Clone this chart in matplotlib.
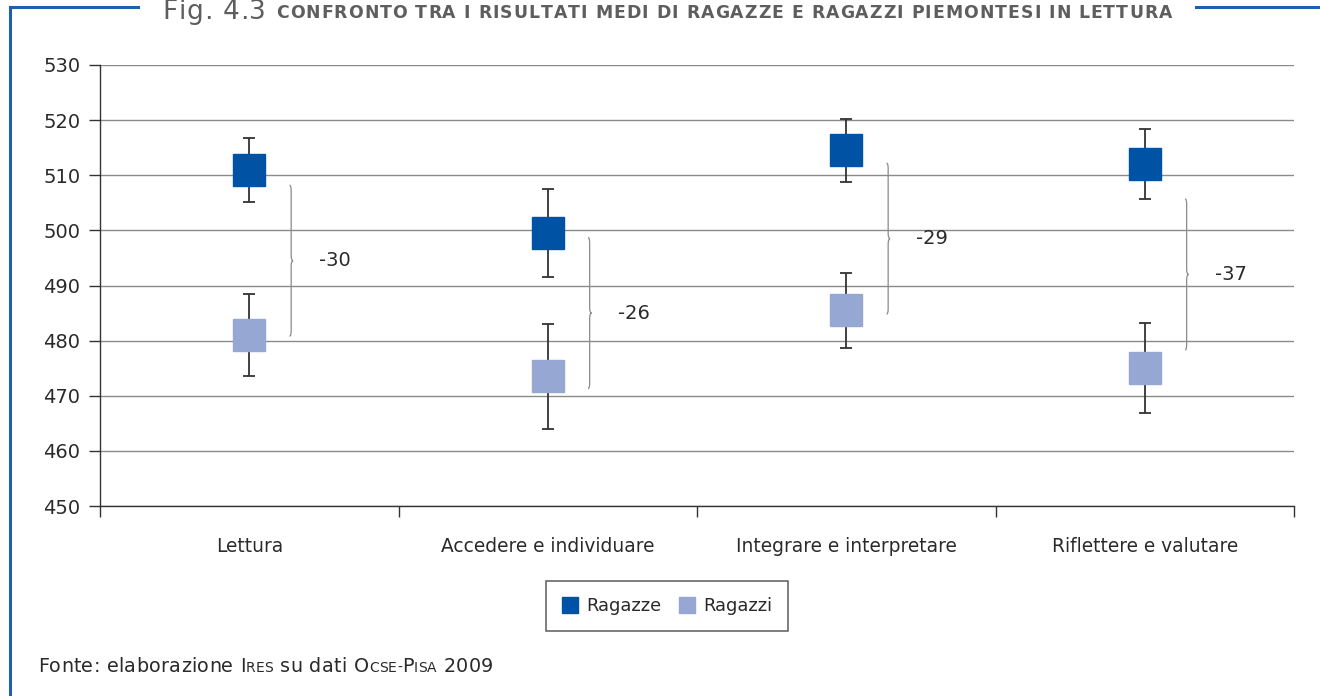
import matplotlib
matplotlib.use("Agg")
import matplotlib.pyplot as plt
from matplotlib.path import Path
from matplotlib.patches import PathPatch
from matplotlib.lines import Line2D
from matplotlib.transforms import IdentityTransform

# --- data -------------------------------------------------------------
categories = ["Lettura", "Accedere e individuare",
              "Integrare e interpretare", "Riflettere e valutare"]
ragazze = [511.0, 499.5, 514.5, 512.0]        # mean score, girls
ragazzi = [481.0, 473.5, 485.5, 475.0]        # mean score, boys
ragazze_err = [5.8, 8.0, 5.7, 6.3]            # confidence half-width
ragazzi_err = [7.5, 9.5, 6.8, 8.2]
y_ticks = [450, 460, 470, 480, 490, 500, 510, 520, 530]

title_fig = "Fig. 4.3"
title_text = "CONFRONTO TRA I RISULTATI MEDI DI RAGAZZE E RAGAZZI PIEMONTESI IN LETTURA"

# --- style ------------------------------------------------------------
C_GIRLS = "#0053A4"
C_BOYS = "#97A7D3"
C_FRAME = "#1F5FAE"
C_TITLE = "#5E5E5E"
C_TEXT = "#2A2A2A"
plt.rcParams["font.family"] = ["DejaVu Sans"]

W, H = 1320, 696
fig = plt.figure(figsize=(W / 100, H / 100), dpi=100)
ax = fig.add_axes([100 / W, 1 - 506 / H, (1294 - 100) / W, (506 - 65) / H])

x = list(range(len(categories)))

# error bars drawn below the square markers
for vals, errs, col in ((ragazze, ragazze_err, C_GIRLS), (ragazzi, ragazzi_err, C_BOYS)):
    ax.errorbar(x, vals, yerr=errs, fmt="none", ecolor="#333333",
                elinewidth=1.3, capsize=4.2, capthick=1.3, zorder=3)
    ax.plot(x, vals, linestyle="none", marker="s", markersize=22.5,
            markerfacecolor=col, markeredgecolor=col, zorder=4)


def brace(ax, x0, top, bottom, w=0.012, r=1.0):
    mid = (top + bottom) / 2
    xm = x0 + w * 0.45
    verts = [(x0, top), (xm, top), (xm, top - r),
             (xm, mid + r),
             (xm, mid), (x0 + w, mid),
             (xm, mid), (xm, mid - r),
             (xm, bottom + r),
             (xm, bottom), (x0, bottom)]
    codes = [Path.MOVETO, Path.CURVE3, Path.CURVE3,
             Path.LINETO,
             Path.CURVE3, Path.CURVE3,
             Path.CURVE3, Path.CURVE3,
             Path.LINETO,
             Path.CURVE3, Path.CURVE3]
    ax.add_patch(PathPatch(Path(verts, codes), facecolor="none",
                           edgecolor="#8a8a8a", linewidth=0.9, zorder=5))


brace_len = 27.4
for i in x:
    gap = ragazzi[i] - ragazze[i]
    centre = (ragazze[i] + ragazzi[i]) / 2 - 1.5
    brace(ax, i + 0.135, centre + brace_len / 2, centre - brace_len / 2)
    ax.text(i + 0.235, centre, f"{gap:.0f}", fontsize=14, color=C_TEXT,
            ha="left", va="center", zorder=6)

ax.set_xlim(-0.5, len(categories) - 0.5)
ax.set_ylim(450, 530)
ax.set_yticks(y_ticks)
ax.set_xticks([i + 0.5 for i in range(-1, len(categories))])
ax.set_xticklabels([])
ax.set_xticks(x, minor=True)
ax.set_xticklabels(categories, minor=True)
ax.tick_params(axis="x", which="minor", length=0, pad=22, labelsize=13.4,
               labelcolor=C_TEXT)
ax.tick_params(axis="x", which="major", length=8, width=1, color="#333333")
ax.tick_params(axis="y", length=8, width=1, color="#333333", labelsize=14,
               labelcolor=C_TEXT, pad=6)
ax.grid(axis="y", color="#8a8a8a", linewidth=1)
ax.set_axisbelow(True)
for side in ("top", "right"):
    ax.spines[side].set_visible(False)
for side in ("left", "bottom"):
    ax.spines[side].set_color("#333333")
    ax.spines[side].set_linewidth(1)

handles = [Line2D([], [], linestyle="none", marker="s", markersize=11,
                  markerfacecolor=c, markeredgecolor=c) for c in (C_GIRLS, C_BOYS)]
leg = fig.legend(handles, ["Ragazze", "Ragazzi"], loc="center",
                 bbox_to_anchor=(667 / W, 1 - 606 / H), ncol=2, frameon=True,
                 fancybox=False, edgecolor="#333333", fontsize=12.8,
                 handlelength=0.9, handletextpad=0.45, columnspacing=1.0,
                 borderpad=0.9, labelcolor=C_TEXT)
leg.get_frame().set_linewidth(1.1)

# --- frame lines ------------------------------------------------------
fig.add_artist(Line2D([10 / W, 10 / W], [0, 1 - 7 / H], color=C_FRAME, linewidth=2.2,
                      transform=fig.transFigure))
fig.add_artist(Line2D([10 / W, 138 / W], [1 - 7 / H, 1 - 7 / H], color=C_FRAME,
                      linewidth=2.2, transform=fig.transFigure))
fig.add_artist(Line2D([1196 / W, 1], [1 - 7 / H, 1 - 7 / H], color=C_FRAME,
                      linewidth=2.2, transform=fig.transFigure))

# --- letter-spaced text runs (title, small-caps source) ---------------
renderer = fig.canvas.get_renderer()


def advance(ch, size, weight):
    """Horizontal advance of one character (works for spaces too)."""
    probe = fig.text(0, 0, "|" + ch + "|", fontsize=size, fontweight=weight,
                     transform=IdentityTransform())
    bar = fig.text(0, 0, "||", fontsize=size, fontweight=weight,
                   transform=IdentityTransform())
    adv = probe.get_window_extent(renderer).width - bar.get_window_extent(renderer).width
    probe.remove()
    bar.remove()
    return adv


def tracked(x_px, x_end, y_px, runs, **kw):
    """Draw runs letter by letter, spreading them evenly from x_px to x_end."""
    glyphs = []
    natural = 0.0
    for s, size, weight in runs:
        for ch in s:
            t = fig.text(0, H - y_px, ch, fontsize=size, fontweight=weight,
                         transform=IdentityTransform(), va="baseline", ha="left", **kw)
            adv = advance(ch, size, weight)
            glyphs.append((t, adv))
            natural += adv
    last_w = glyphs[-1][0].get_window_extent(renderer).width
    extra = (x_end - x_px - natural + glyphs[-1][1] - last_w) / max(len(glyphs) - 1, 1)
    cur = x_px
    for t, adv in glyphs:
        t.set_x(cur)
        cur += adv + extra


tracked(162, 266, 19, [(title_fig, 19, "normal")], color=C_TITLE)
tracked(276, 1172, 18, [(title_text, 12.4, "bold")], color=C_TITLE)

big, small = 13.8, 10
tracked(38, 493, 672, [("Fonte: elaborazione ", big, "normal"),
                       ("I", big, "normal"), ("RES", small, "normal"),
                       (" su dati ", big, "normal"),
                       ("O", big, "normal"), ("CSE-", small, "normal"),
                       ("P", big, "normal"), ("ISA", small, "normal"),
                       (" 2009", big, "normal")],
        color=C_TEXT)

fig.savefig("out.png", dpi=100)
